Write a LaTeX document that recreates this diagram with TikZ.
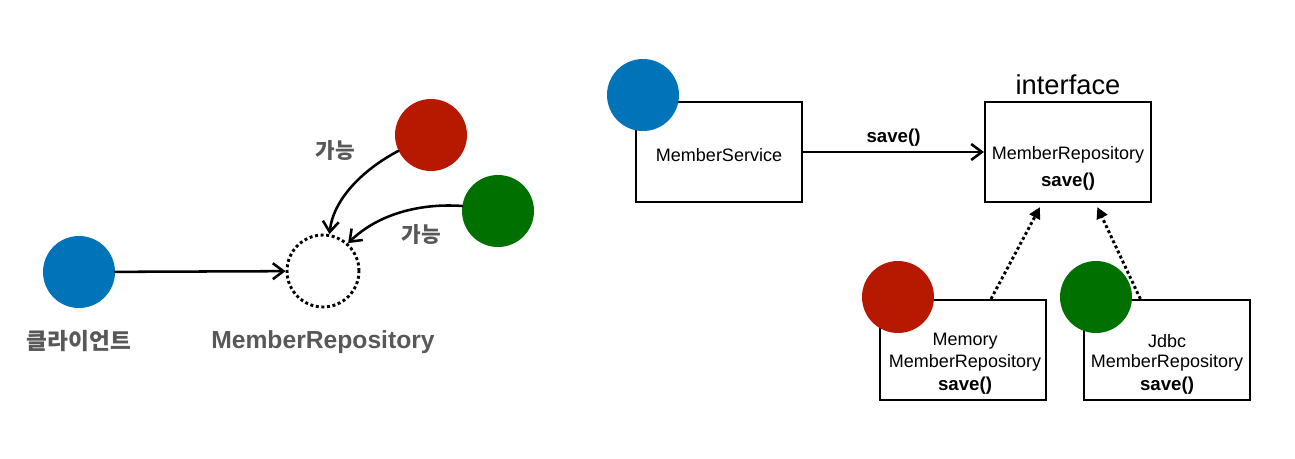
\documentclass[tikz,border=0pt]{standalone}
\usepackage{fontspec}
\setmainfont{Liberation Sans}
\newfontfamily\krfont{Noto Sans CJK KR}
\usepackage{tikz}
\usetikzlibrary{arrows.meta}
\usepackage{xcolor}
\definecolor{objblue}{RGB}{0,115,185}
\definecolor{objred}{RGB}{183,25,0}
\definecolor{objgreen}{RGB}{0,112,0}
\definecolor{lblgray}{RGB}{88,88,88}
\tikzset{
  obj/.style={circle,minimum size=54pt,inner sep=0pt},
  cls/.style={draw,line width=1.6pt,minimum width=124.5pt,minimum height=75pt,inner sep=0pt},
  clstext/.style={inner sep=0pt,font=\fontsize{13.5}{16}\selectfont},
  clsbold/.style={inner sep=0pt,font=\fontsize{14}{16}\selectfont\bfseries},
  krlbl/.style={text=lblgray,font=\fontsize{16}{18}\selectfont\krfont\bfseries},
  dots/.style={line width=2.2pt,dash pattern=on 2.2pt off 2pt,line cap=butt}
}

\begin{document}
\begin{tikzpicture}[x=0.75pt,y=-0.75pt,>={Straight Barb[length=2.8mm,width=4.2mm]},line cap=round]
\useasboundingbox (0,0) rectangle (1295,458);
% left: client and possible implementations
\node[obj,fill=objblue] (client) at (79,272) {};
\node[obj,draw,dots] (repo) at (323,271) {};
\node[obj,fill=objred] (memory) at (431,135) {};
\node[obj,fill=objgreen] (jdbc) at (498,211) {};
\node[krlbl,font=\fontsize{17}{18}\selectfont\krfont\bfseries] (clientlbl) at (79,341) {클라이언트};
\node[text=lblgray,font=\fontsize{18.5}{20}\selectfont\bfseries] (repolbl) at (323,342) {MemberRepository};
\node[krlbl] (oka) at (335,150) {가능};
\node[krlbl] (okb) at (421,234) {가능};
\draw[->,line width=1.9pt] (client) -- (repo);
\draw[->,line width=1.9pt] (memory.206) .. controls (362,170) and (333,200) .. (repo.80);
\draw[->,line width=1.9pt] (jdbc.172) .. controls (420,203) and (378,214) .. (repo.48);
% right: class diagram
\node[cls] (svcbox) at (719,152) {};
\node[cls] (iface) at (1068,152) {};
\node[cls] (membox) at (963,350) {};
\node[cls] (jdbcbox) at (1167,350) {};
\node[obj,fill=objblue] (svcobj) at (643,95) {};
\node[obj,fill=objred] (memobj) at (898,297) {};
\node[obj,fill=objgreen] (jdbcobj) at (1096,297) {};
\node[clstext] (svctext) at (719,155) {MemberService};
\node[font=\fontsize{20.5}{22}\selectfont,above=1pt] (ifacelbl) at (iface.north) {interface};
\node[clstext] (ifacetext) at (1068,155) {MemberRepository};
\node[clsbold] (ifacesave) at (1068,182) {save()};
\node[clstext] (memtext) at (965,341) {Memory};
\node[clstext] (memtextb) at (965,363) {MemberRepository};
\node[clsbold] (memsave) at (965,386) {save()};
\node[clstext] (jdbctext) at (1167,341) {Jdbc};
\node[clstext] (jdbctextb) at (1167,363) {MemberRepository};
\node[clsbold] (jdbcsave) at (1167,386) {save()};
\draw[->,line width=1.9pt] (svcbox.east) -- node[clsbold,above=3pt] (callsave) {save()} (iface.west);
\draw[dots,-{Triangle[length=3mm,width=3mm]}] ([xshift=21pt]membox.north) -- ([xshift=-21pt,yshift=-3pt]iface.south);
\draw[dots,-{Triangle[length=3mm,width=3mm]}] ([xshift=-20pt]jdbcbox.north) -- ([xshift=22pt,yshift=-3pt]iface.south);
\end{tikzpicture}
\end{document}
